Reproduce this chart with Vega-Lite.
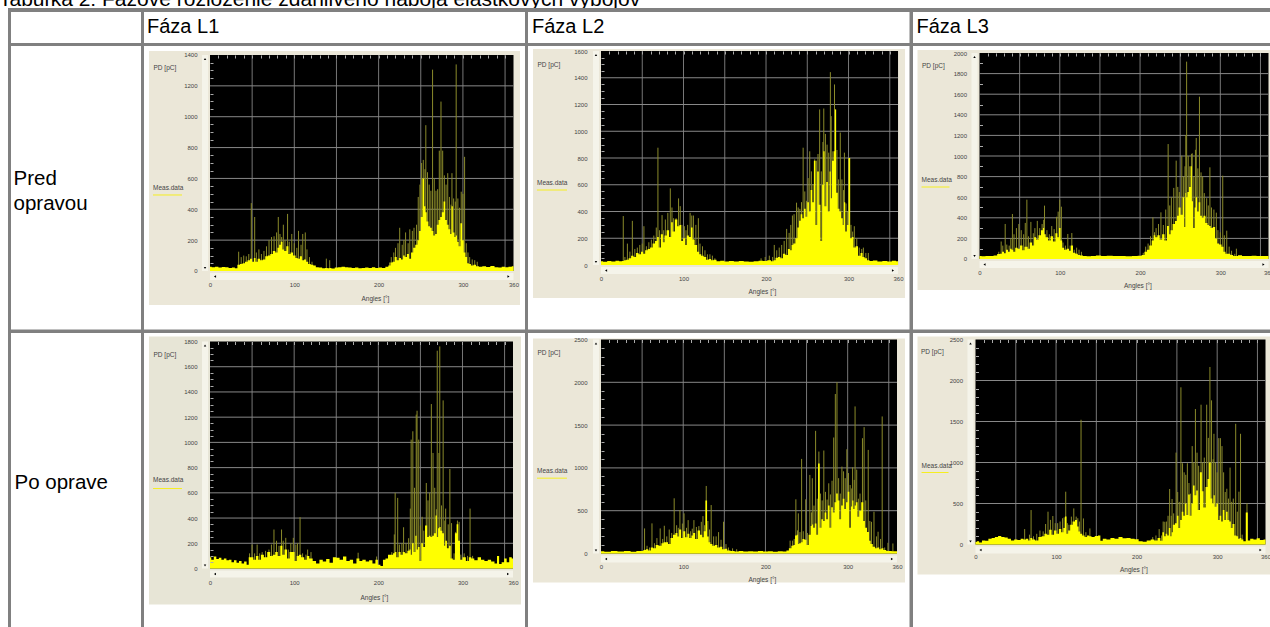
{"$schema":"https://vega.github.io/schema/vega-lite/v6.json","background":"#808080","padding":0,
"data":{"values":[{}]},
"config":{"font":"Liberation Sans","view":{"stroke":null},"axis":{"disable":true,"domain":false,"grid":false,"ticks":false,"format":"d","labelFontSize":6,"labelColor":"#444","labelOverlap":false,"labelFlush":false,"titleFontSize":6.5,"titleFontWeight":"normal","titleColor":"#444","titleAngle":0,"titleAlign":"left","titleBaseline":"middle","tickColor":"#aaa","tickSize":3}},
"datasets":{
"p1":[{"a":0,"b":28},{"a":4,"b":24},{"a":8,"b":28},{"a":12,"b":22},{"a":16,"b":26},{"a":20,"b":24},{"a":24,"b":20},{"a":28,"b":22},{"a":31,"b":18},{"a":34,"b":40,"s":125},{"a":37,"b":45,"s":90},{"a":40,"b":50,"s":100},{"a":43,"b":60,"s":95},{"a":46,"b":70,"s":110},{"a":49,"b":80,"s":440},{"a":51,"b":60},{"a":53,"b":85,"s":350},{"a":55,"b":60,"s":120},{"a":58,"b":80,"s":140},{"a":61,"b":70,"s":110},{"a":64,"b":75,"s":130},{"a":67,"b":95,"s":160},{"a":70,"b":100,"s":200},{"a":73,"b":110,"s":220},{"a":76,"b":130,"s":225},{"a":79,"b":120,"s":250},{"a":81,"b":150,"s":350},{"a":83,"b":170,"s":240},{"a":85,"b":190,"s":220},{"a":87,"b":140,"s":300},{"a":89,"b":130,"s":200},{"a":92,"b":160,"s":370},{"a":94,"b":110,"s":190},{"a":97,"b":120,"s":240},{"a":100,"b":100,"s":180},{"a":103,"b":85,"s":150},{"a":105,"b":80,"s":260},{"a":108,"b":95,"s":170},{"a":110,"b":70,"s":240},{"a":113,"b":75,"s":250},{"a":115,"b":60,"s":140},{"a":118,"b":45,"s":90},{"a":121,"b":40,"s":60},{"a":124,"b":35},{"a":127,"b":25},{"a":131,"b":22},{"a":135,"b":18},{"a":138,"b":20,"s":80},{"a":141,"b":18},{"a":142,"b":20,"s":70},{"a":146,"b":16},{"a":150,"b":22},{"a":154,"b":24},{"a":158,"b":28},{"a":162,"b":24},{"a":166,"b":22},{"a":170,"b":20},{"a":174,"b":22},{"a":178,"b":18},{"a":182,"b":20},{"a":186,"b":22},{"a":190,"b":20},{"a":194,"b":24},{"a":198,"b":20},{"a":202,"b":22},{"a":206,"b":20},{"a":210,"b":28},{"a":213,"b":35,"s":55},{"a":215,"b":55,"s":90},{"a":218,"b":60,"s":120},{"a":220,"b":90,"s":150},{"a":223,"b":70,"s":180},{"a":225,"b":85,"s":280},{"a":228,"b":75,"s":170},{"a":230,"b":100,"s":200},{"a":232,"b":90,"s":250},{"a":235,"b":110,"s":180},{"a":237,"b":80,"s":270},{"a":240,"b":120,"s":260},{"a":242,"b":150,"s":280},{"a":245,"b":170,"s":300},{"a":247,"b":200,"s":480},{"a":249,"b":260,"s":560},{"a":251,"b":350,"s":700},{"a":253,"b":600,"s":720},{"a":255,"b":420,"s":660},{"a":256,"b":380,"s":945},{"a":258,"b":320,"s":640},{"a":260,"b":290,"s":560},{"a":262,"b":280,"s":520},{"a":264,"b":260,"s":1305},{"a":266,"b":230,"s":600},{"a":268,"b":240,"s":520},{"a":270,"b":300,"s":530},{"a":272,"b":330,"s":780},{"a":274,"b":350,"s":1098},{"a":276,"b":380,"s":780},{"a":278,"b":450,"s":620},{"a":280,"b":330,"s":560},{"a":282,"b":300,"s":634},{"a":284,"b":270,"s":480},{"a":286,"b":240,"s":430},{"a":287,"b":420,"s":634},{"a":289,"b":250,"s":470},{"a":291,"b":220,"s":450},{"a":292,"b":230,"s":1339},{"a":294,"b":190,"s":470},{"a":296,"b":160,"s":410},{"a":298,"b":310,"s":514},{"a":300,"b":200,"s":500},{"a":302,"b":120,"s":740},{"a":304,"b":90,"s":180},{"a":306,"b":50,"s":120},{"a":308,"b":45,"s":90},{"a":311,"b":35,"s":75},{"a":314,"b":40,"s":70},{"a":317,"b":30,"s":60},{"a":321,"b":28},{"a":325,"b":30},{"a":330,"b":26},{"a":335,"b":32},{"a":340,"b":24},{"a":344,"b":22},{"a":348,"b":28},{"a":352,"b":24},{"a":356,"b":28},{"a":360,"b":30}],
"p2":[{"a":0,"b":28},{"a":5,"b":24},{"a":10,"b":30},{"a":15,"b":26},{"a":20,"b":32},{"a":24,"b":28},{"a":27,"b":30,"s":366},{"a":29,"b":36,"s":60},{"a":32,"b":40,"s":160},{"a":35,"b":50,"s":100},{"a":38,"b":70,"s":330},{"a":41,"b":60,"s":120},{"a":44,"b":90,"s":130},{"a":47,"b":80,"s":150},{"a":50,"b":100,"s":160},{"a":52,"b":85,"s":290},{"a":55,"b":110,"s":140},{"a":58,"b":120,"s":170},{"a":61,"b":130,"s":190},{"a":64,"b":160,"s":220},{"a":67,"b":180,"s":280},{"a":69,"b":210,"s":877},{"a":71,"b":130,"s":260},{"a":74,"b":230,"s":373},{"a":76,"b":170,"s":260},{"a":78,"b":220,"s":340},{"a":81,"b":260,"s":390},{"a":84,"b":210,"s":573},{"a":86,"b":320,"s":430},{"a":88,"b":250,"s":350},{"a":91,"b":340,"s":350},{"a":94,"b":290,"s":498},{"a":96,"b":300,"s":440},{"a":98,"b":180,"s":300},{"a":101,"b":200,"s":290},{"a":103,"b":150,"s":260},{"a":105,"b":220,"s":300},{"a":108,"b":210,"s":390},{"a":110,"b":280,"s":370},{"a":112,"b":190,"s":370},{"a":115,"b":150,"s":300},{"a":118,"b":100,"s":350},{"a":120,"b":80,"s":160},{"a":123,"b":70,"s":140},{"a":126,"b":60,"s":110},{"a":129,"b":40,"s":80},{"a":132,"b":45,"s":80},{"a":135,"b":35,"s":70},{"a":138,"b":40,"s":50},{"a":142,"b":28},{"a":147,"b":32},{"a":152,"b":26},{"a":158,"b":30},{"a":164,"b":26},{"a":170,"b":30},{"a":176,"b":26},{"a":182,"b":24},{"a":188,"b":28},{"a":194,"b":32,"s":50},{"a":199,"b":30,"s":60},{"a":204,"b":36,"s":70},{"a":208,"b":28,"s":60},{"a":210,"b":35,"s":150},{"a":213,"b":55,"s":110},{"a":216,"b":60,"s":130},{"a":219,"b":50,"s":150},{"a":222,"b":85,"s":180},{"a":225,"b":75,"s":270},{"a":228,"b":120,"s":240},{"a":230,"b":110,"s":300},{"a":232,"b":150,"s":370},{"a":234,"b":160,"s":380},{"a":237,"b":200,"s":466},{"a":239,"b":280,"s":430},{"a":241,"b":330,"s":420},{"a":243,"b":380,"s":470},{"a":245,"b":350,"s":877},{"a":247,"b":420,"s":550},{"a":249,"b":360,"s":480},{"a":251,"b":470,"s":650},{"a":253,"b":400,"s":850},{"a":255,"b":560,"s":700},{"a":257,"b":470,"s":600},{"a":259,"b":780,"s":790},{"a":261,"b":300,"s":780},{"a":263,"b":700,"s":830},{"a":265,"b":450,"s":1163},{"a":267,"b":180,"s":700},{"a":269,"b":600,"s":920},{"a":270,"b":850,"s":1170},{"a":272,"b":440,"s":980},{"a":274,"b":620,"s":900},{"a":276,"b":400,"s":840},{"a":278,"b":700,"s":1442},{"a":279,"b":500,"s":1113},{"a":281,"b":780,"s":850},{"a":283,"b":850,"s":1350},{"a":284,"b":1163,"s":1163},{"a":286,"b":540,"s":860},{"a":288,"b":420,"s":640},{"a":290,"b":400,"s":990},{"a":292,"b":350,"s":640},{"a":294,"b":300,"s":560},{"a":295,"b":470,"s":840},{"a":297,"b":250,"s":460},{"a":299,"b":300,"s":400},{"a":301,"b":800,"s":800},{"a":303,"b":200,"s":300},{"a":305,"b":210,"s":250},{"a":307,"b":130,"s":290},{"a":310,"b":140,"s":200},{"a":313,"b":70,"s":130},{"a":316,"b":90,"s":120},{"a":318,"b":60,"s":130},{"a":321,"b":50,"s":90},{"a":324,"b":35,"s":90},{"a":327,"b":30},{"a":332,"b":34},{"a":338,"b":26},{"a":344,"b":30},{"a":350,"b":26},{"a":355,"b":32},{"a":360,"b":28}],
"p3":[{"a":0,"b":30},{"a":5,"b":26},{"a":10,"b":30},{"a":15,"b":28},{"a":20,"b":34},{"a":24,"b":48,"s":70},{"a":27,"b":50,"s":170},{"a":29,"b":70,"s":130},{"a":32,"b":55,"s":340},{"a":34,"b":90,"s":140},{"a":37,"b":70,"s":130},{"a":39,"b":100,"s":200},{"a":41,"b":90,"s":437},{"a":43,"b":70,"s":240},{"a":46,"b":110,"s":300},{"a":49,"b":100,"s":340},{"a":52,"b":130,"s":280},{"a":55,"b":85,"s":240},{"a":57,"b":120,"s":350},{"a":59,"b":120,"s":576},{"a":61,"b":100,"s":220},{"a":64,"b":160,"s":360},{"a":67,"b":130,"s":250},{"a":69,"b":210,"s":300},{"a":72,"b":190,"s":370},{"a":75,"b":230,"s":300},{"a":78,"b":280,"s":340},{"a":80,"b":300,"s":380},{"a":81,"b":240,"s":518},{"a":84,"b":210,"s":280},{"a":87,"b":180,"s":240},{"a":90,"b":220,"s":320},{"a":93,"b":170,"s":290},{"a":96,"b":250,"s":410},{"a":98,"b":210,"s":460},{"a":100,"b":300,"s":576},{"a":102,"b":180,"s":508},{"a":104,"b":110,"s":160},{"a":107,"b":90,"s":130},{"a":110,"b":100,"s":243},{"a":113,"b":80,"s":130},{"a":115,"b":130,"s":252},{"a":118,"b":60,"s":90},{"a":121,"b":50,"s":110},{"a":124,"b":40,"s":90},{"a":127,"b":35,"s":70},{"a":131,"b":30},{"a":136,"b":26},{"a":142,"b":28},{"a":148,"b":34},{"a":155,"b":30},{"a":162,"b":32},{"a":170,"b":28},{"a":178,"b":30},{"a":186,"b":26},{"a":194,"b":30},{"a":200,"b":32},{"a":204,"b":40,"s":60},{"a":207,"b":70,"s":120},{"a":210,"b":90,"s":150},{"a":213,"b":130,"s":220},{"a":216,"b":180,"s":404},{"a":218,"b":230,"s":260},{"a":220,"b":210,"s":300},{"a":223,"b":230,"s":340},{"a":226,"b":190,"s":453},{"a":229,"b":240,"s":330},{"a":232,"b":180,"s":480},{"a":235,"b":320,"s":1116},{"a":237,"b":240,"s":520},{"a":239,"b":280,"s":600},{"a":242,"b":340,"s":690},{"a":245,"b":370,"s":955},{"a":247,"b":420,"s":700},{"a":249,"b":500,"s":650},{"a":252,"b":430,"s":1003},{"a":254,"b":600,"s":800},{"a":256,"b":310,"s":900},{"a":257,"b":640,"s":1204},{"a":258,"b":600,"s":1916},{"a":260,"b":650,"s":1000},{"a":262,"b":700,"s":900},{"a":264,"b":900,"s":1020},{"a":265,"b":560,"s":1026},{"a":267,"b":300,"s":800},{"a":269,"b":500,"s":1060},{"a":270,"b":600,"s":1175},{"a":272,"b":460,"s":880},{"a":274,"b":550,"s":1576},{"a":276,"b":420,"s":841},{"a":278,"b":400,"s":800},{"a":280,"b":420,"s":640},{"a":283,"b":350,"s":590},{"a":285,"b":330,"s":520},{"a":287,"b":320,"s":890},{"a":289,"b":300,"s":500},{"a":292,"b":310,"s":480},{"a":295,"b":200,"s":450},{"a":297,"b":150,"s":280},{"a":300,"b":140,"s":260},{"a":303,"b":120,"s":809},{"a":305,"b":70,"s":230},{"a":308,"b":50,"s":275},{"a":311,"b":50,"s":120},{"a":314,"b":40,"s":80},{"a":318,"b":30,"s":50},{"a":320,"b":30,"s":100},{"a":324,"b":36},{"a":330,"b":30},{"a":336,"b":28},{"a":342,"b":32},{"a":348,"b":28},{"a":354,"b":30},{"a":360,"b":28}],
"p4":[{"a":0,"b":90},{"a":3,"b":70},{"a":6,"b":95},{"a":9,"b":75},{"a":12,"b":85},{"a":15,"b":70},{"a":18,"b":80},{"a":21,"b":65},{"a":24,"b":70},{"a":27,"b":50},{"a":30,"b":65},{"a":33,"b":45},{"a":36,"b":60},{"a":39,"b":40},{"a":42,"b":55},{"a":45,"b":30},{"a":47,"b":90,"s":120},{"a":50,"b":90,"s":190},{"a":53,"b":70,"s":120},{"a":56,"b":100,"s":190},{"a":59,"b":70,"s":120},{"a":62,"b":110,"s":130},{"a":66,"b":90,"s":140},{"a":70,"b":130,"s":150},{"a":73,"b":100,"s":190},{"a":76,"b":110,"s":309},{"a":79,"b":130,"s":220},{"a":82,"b":100,"s":180},{"a":85,"b":180,"s":309},{"a":87,"b":110,"s":220},{"a":90,"b":150,"s":243},{"a":93,"b":80,"s":150},{"a":96,"b":130,"s":200},{"a":99,"b":130,"s":243},{"a":102,"b":60,"s":190},{"a":104,"b":100,"s":200},{"a":107,"b":110,"s":407},{"a":110,"b":90,"s":120},{"a":114,"b":70,"s":110},{"a":116,"b":100,"s":150},{"a":120,"b":80,"s":130},{"a":124,"b":60},{"a":128,"b":40},{"a":132,"b":70},{"a":136,"b":55},{"a":140,"b":75},{"a":144,"b":45},{"a":148,"b":90},{"a":152,"b":85},{"a":156,"b":70},{"a":160,"b":95},{"a":164,"b":60},{"a":168,"b":70},{"a":172,"b":40},{"a":176,"b":80,"s":125},{"a":179,"b":60},{"a":183,"b":70},{"a":187,"b":55},{"a":191,"b":65},{"a":195,"b":40},{"a":198,"b":70,"s":95},{"a":201,"b":30},{"a":204,"b":20},{"a":207,"b":70},{"a":210,"b":80},{"a":213,"b":110},{"a":216,"b":110,"s":130},{"a":219,"b":120,"s":270},{"a":220,"b":130,"s":600},{"a":223,"b":90,"s":560},{"a":225,"b":130,"s":190},{"a":228,"b":110,"s":200},{"a":230,"b":130,"s":327},{"a":233,"b":120,"s":200},{"a":236,"b":140,"s":240},{"a":238,"b":150,"s":475},{"a":239,"b":110,"s":1022},{"a":241,"b":200,"s":1088},{"a":243,"b":130,"s":640},{"a":245,"b":260,"s":1220},{"a":246,"b":150,"s":1251},{"a":248,"b":170,"s":1022},{"a":250,"b":60,"s":340},{"a":252,"b":200,"s":410},{"a":254,"b":170,"s":300},{"a":257,"b":340,"s":678},{"a":259,"b":250,"s":540},{"a":261,"b":260,"s":600},{"a":263,"b":250,"s":1304},{"a":265,"b":260,"s":916},{"a":267,"b":280,"s":640},{"a":269,"b":420,"s":470},{"a":270,"b":250,"s":1727},{"a":272,"b":320,"s":916},{"a":273,"b":330,"s":1761},{"a":275,"b":300,"s":500},{"a":277,"b":280,"s":1333},{"a":279,"b":180,"s":380},{"a":280,"b":220,"s":475},{"a":283,"b":160,"s":350},{"a":285,"b":180,"s":789},{"a":287,"b":80,"s":360},{"a":290,"b":70,"s":120},{"a":292,"b":280,"s":290},{"a":294,"b":350,"s":380},{"a":296,"b":220,"s":370},{"a":298,"b":70,"s":110},{"a":302,"b":90,"s":120},{"a":306,"b":60,"s":100},{"a":309,"b":90,"s":475},{"a":312,"b":80,"s":100},{"a":316,"b":65},{"a":320,"b":90},{"a":324,"b":70},{"a":328,"b":60},{"a":332,"b":70},{"a":336,"b":55},{"a":340,"b":40},{"a":342,"b":100},{"a":345,"b":35},{"a":348,"b":50},{"a":351,"b":80},{"a":354,"b":50},{"a":357,"b":90},{"a":360,"b":80}],
"p5":[{"a":0,"b":25},{"a":8,"b":20},{"a":16,"b":30},{"a":24,"b":22},{"a":32,"b":28},{"a":40,"b":20},{"a":46,"b":28},{"a":50,"b":30},{"a":53,"b":40,"s":293},{"a":56,"b":50,"s":90},{"a":59,"b":35,"s":70},{"a":62,"b":70,"s":352},{"a":65,"b":60,"s":120},{"a":68,"b":100,"s":180},{"a":72,"b":90,"s":293},{"a":75,"b":120,"s":170},{"a":77,"b":130,"s":324},{"a":80,"b":130,"s":200},{"a":83,"b":110,"s":280},{"a":86,"b":180,"s":240},{"a":89,"b":220,"s":645},{"a":92,"b":240,"s":330},{"a":94,"b":200,"s":300},{"a":96,"b":280,"s":508},{"a":99,"b":180,"s":350},{"a":101,"b":260,"s":469},{"a":104,"b":190,"s":300},{"a":106,"b":230,"s":390},{"a":109,"b":180,"s":260},{"a":111,"b":210,"s":290},{"a":113,"b":240,"s":390},{"a":116,"b":170,"s":310},{"a":119,"b":270,"s":320},{"a":122,"b":220,"s":370},{"a":124,"b":190,"s":437},{"a":126,"b":260,"s":330},{"a":128,"b":620,"s":789},{"a":130,"b":200,"s":380},{"a":132,"b":130,"s":280},{"a":134,"b":110,"s":566},{"a":137,"b":90,"s":200},{"a":140,"b":100,"s":200},{"a":143,"b":70,"s":250},{"a":146,"b":80,"s":160},{"a":149,"b":50,"s":371},{"a":152,"b":55,"s":110},{"a":155,"b":35,"s":70},{"a":160,"b":30,"s":60},{"a":165,"b":24,"s":50},{"a":170,"b":28},{"a":176,"b":22},{"a":182,"b":26},{"a":188,"b":22},{"a":194,"b":28},{"a":200,"b":22},{"a":206,"b":26},{"a":212,"b":20},{"a":218,"b":26},{"a":224,"b":22},{"a":227,"b":35},{"a":230,"b":60,"s":150},{"a":233,"b":90,"s":150},{"a":235,"b":100,"s":170},{"a":237,"b":210,"s":633},{"a":239,"b":220,"s":270},{"a":240,"b":110,"s":469},{"a":242,"b":120,"s":250},{"a":244,"b":130,"s":1105},{"a":246,"b":170,"s":260},{"a":249,"b":160,"s":633},{"a":251,"b":100,"s":240},{"a":254,"b":220,"s":918},{"a":256,"b":320,"s":480},{"a":257,"b":340,"s":879},{"a":259,"b":300,"s":560},{"a":261,"b":350,"s":1433},{"a":263,"b":220,"s":640},{"a":265,"b":1050,"s":1191},{"a":267,"b":300,"s":700},{"a":269,"b":400,"s":620},{"a":271,"b":380,"s":1203},{"a":273,"b":480,"s":720},{"a":275,"b":400,"s":630},{"a":277,"b":560,"s":820},{"a":279,"b":300,"s":690},{"a":281,"b":540,"s":850},{"a":283,"b":480,"s":1355},{"a":285,"b":600,"s":1863},{"a":287,"b":700,"s":2000},{"a":289,"b":620,"s":880},{"a":291,"b":400,"s":700},{"a":293,"b":560,"s":1015},{"a":295,"b":640,"s":960},{"a":297,"b":520,"s":880},{"a":299,"b":600,"s":1218},{"a":301,"b":720,"s":940},{"a":303,"b":300,"s":800},{"a":305,"b":550,"s":760},{"a":306,"b":620,"s":1007},{"a":308,"b":520,"s":860},{"a":309,"b":560,"s":1718},{"a":311,"b":600,"s":980},{"a":313,"b":430,"s":640},{"a":315,"b":500,"s":700},{"a":318,"b":600,"s":1347},{"a":320,"b":380,"s":1476},{"a":322,"b":300,"s":620},{"a":325,"b":250,"s":1210},{"a":327,"b":150,"s":380},{"a":329,"b":110,"s":370},{"a":332,"b":80,"s":488},{"a":335,"b":60,"s":200},{"a":337,"b":70,"s":254},{"a":340,"b":50,"s":170},{"a":342,"b":60,"s":1601},{"a":345,"b":40,"s":70},{"a":349,"b":30,"s":125},{"a":352,"b":28},{"a":355,"b":25,"s":117},{"a":360,"b":25}],
"p6":[{"a":0,"b":30},{"a":3,"b":40},{"a":6,"b":25},{"a":10,"b":50},{"a":14,"b":45},{"a":18,"b":70},{"a":22,"b":80},{"a":26,"b":90},{"a":30,"b":105},{"a":34,"b":90},{"a":38,"b":85},{"a":42,"b":70},{"a":46,"b":50},{"a":50,"b":60},{"a":54,"b":55},{"a":58,"b":70},{"a":61,"b":60,"s":188},{"a":64,"b":70},{"a":67,"b":50,"s":120},{"a":69,"b":80,"s":420},{"a":72,"b":60,"s":100},{"a":76,"b":50,"s":130},{"a":80,"b":90,"s":170},{"a":84,"b":100,"s":160},{"a":87,"b":130,"s":250},{"a":90,"b":120,"s":400},{"a":93,"b":180,"s":300},{"a":96,"b":120,"s":347},{"a":99,"b":170,"s":260},{"a":102,"b":130,"s":260},{"a":105,"b":190,"s":280},{"a":108,"b":150,"s":320},{"a":110,"b":200,"s":330},{"a":112,"b":340,"s":644},{"a":114,"b":130,"s":260},{"a":116,"b":170,"s":240},{"a":119,"b":240,"s":340},{"a":122,"b":280,"s":440},{"a":125,"b":300,"s":340},{"a":127,"b":220,"s":320},{"a":129,"b":160,"s":280},{"a":131,"b":130,"s":1521},{"a":134,"b":110,"s":318},{"a":137,"b":90,"s":150},{"a":140,"b":110},{"a":142,"b":100,"s":196},{"a":146,"b":90},{"a":150,"b":105},{"a":154,"b":110},{"a":156,"b":45},{"a":160,"b":70},{"a":165,"b":60},{"a":170,"b":80},{"a":175,"b":70},{"a":180,"b":90},{"a":185,"b":75},{"a":190,"b":80},{"a":195,"b":70},{"a":200,"b":65},{"a":205,"b":40},{"a":210,"b":35},{"a":215,"b":50},{"a":220,"b":60,"s":90},{"a":224,"b":50,"s":110},{"a":228,"b":80,"s":188},{"a":231,"b":45,"s":110},{"a":233,"b":150,"s":280},{"a":235,"b":100,"s":277},{"a":237,"b":130,"s":280},{"a":239,"b":110,"s":350},{"a":241,"b":200,"s":677},{"a":243,"b":100,"s":350},{"a":244,"b":150,"s":555},{"a":246,"b":240,"s":380},{"a":249,"b":260,"s":1121},{"a":251,"b":350,"s":640},{"a":253,"b":200,"s":520},{"a":255,"b":300,"s":1917},{"a":257,"b":400,"s":991},{"a":259,"b":350,"s":880},{"a":261,"b":500,"s":850},{"a":263,"b":360,"s":991},{"a":265,"b":610,"s":750},{"a":267,"b":350,"s":620},{"a":269,"b":500,"s":1200},{"a":271,"b":720,"s":1000},{"a":273,"b":600,"s":1652},{"a":275,"b":660,"s":1120},{"a":277,"b":420,"s":960},{"a":280,"b":880,"s":1705},{"a":282,"b":650,"s":1000},{"a":284,"b":450,"s":1060},{"a":287,"b":700,"s":1705},{"a":289,"b":800,"s":1300},{"a":291,"b":1000,"s":2165},{"a":293,"b":560,"s":1758},{"a":295,"b":500,"s":1040},{"a":296,"b":600,"s":1350},{"a":298,"b":460,"s":1000},{"a":300,"b":500,"s":880},{"a":302,"b":300,"s":1297},{"a":304,"b":350,"s":1297},{"a":306,"b":280,"s":1200},{"a":308,"b":420,"s":880},{"a":310,"b":300,"s":640},{"a":312,"b":400,"s":680},{"a":314,"b":300,"s":560},{"a":316,"b":280,"s":938},{"a":318,"b":200,"s":520},{"a":320,"b":250,"s":560},{"a":323,"b":110,"s":1472},{"a":325,"b":100,"s":400},{"a":327,"b":70,"s":644},{"a":329,"b":80,"s":1350},{"a":331,"b":60,"s":120},{"a":334,"b":40},{"a":337,"b":390,"s":502},{"a":339,"b":50},{"a":343,"b":70},{"a":347,"b":60},{"a":351,"b":75},{"a":355,"b":55},{"a":360,"b":60}]
},
"vconcat":[
{"width":1270,"height":8,"view":{"fill":"white"},"mark":{"type":"text","clip":true,"align":"left","baseline":"alphabetic","fontSize":21,"color":"#000","text":"Tabuľka 2: Fázové rozloženie zdanlivého náboja elastkových výbojov"},"encoding":{"x":{"datum":-1,"type":"quantitative","scale":{"domain":[0,1270],"nice":false}},"y":{"datum":2.5,"type":"quantitative","scale":{"domain":[0,8],"nice":false}}}},
{"hconcat":[
{"width":8,"height":619,"view":{"fill":"white"},"data":{"values":[]},"mark":"text"},
{"vconcat":[
{"width":1259,"height":0.1,"data":{"values":[]},"mark":"text"},
{"hconcat":[
{"width":130,"height":30.9,"view":{"fill":"white"},"data":{"values":[]},"mark":"text"},
{"width":381,"height":30.9,"view":{"fill":"white"},"mark":{"type":"text","text":"Fáza L1","align":"left","fontSize":20,"dx":3,"color":"#000"},"encoding":{"x":{"datum":0,"type":"quantitative","scale":{"domain":[0,1]}},"y":{"datum":0.5,"type":"quantitative","scale":{"domain":[0,1]}}}},
{"width":381.5,"height":30.9,"view":{"fill":"white"},"mark":{"type":"text","text":"Fáza L2","align":"left","fontSize":20,"dx":4,"color":"#000"},"encoding":{"x":{"datum":0,"type":"quantitative","scale":{"domain":[0,1]}},"y":{"datum":0.5,"type":"quantitative","scale":{"domain":[0,1]}}}},
{"width":357.5,"height":30.9,"view":{"fill":"white"},"mark":{"type":"text","text":"Fáza L3","align":"left","fontSize":20,"dx":3.5,"color":"#000"},"encoding":{"x":{"datum":0,"type":"quantitative","scale":{"domain":[0,1]}},"y":{"datum":0.5,"type":"quantitative","scale":{"domain":[0,1]}}}}
],"spacing":3,"bounds":"flush"},
{"hconcat":[
{"width":130,"height":283.5,"view":{"fill":"white"},"mark":{"type":"text","text":["Pred","opravou"],"align":"left","fontSize":20.5,"lineHeight":25,"dx":2.5,"dy":-9,"color":"#000"},"encoding":{"x":{"datum":0,"type":"quantitative","scale":{"domain":[0,1]}},"y":{"datum":0.5,"type":"quantitative","scale":{"domain":[0,1]}}}},
{"width":381,"height":283.5,"view":{"fill":"white"},"resolve":{"axis":{"x":"independent","y":"independent"}},"layer":[
{"mark":{"type":"rect","fill":"#ebe7d8"},"encoding":{"x":{"datum":-72.35,"type":"quantitative","scale":{"domain":[-78.29,373.64],"nice":false},"axis":{"disable":false,"zindex":1,"values":[0,100,200,300,360],"offset":-58.5,"labelPadding":10,"tickSize":0,"title":"Angles [°]","titleX":217,"titleY":27}},"x2":{"datum":367.7},"y":{"datum":-220.4,"type":"quantitative","scale":{"domain":[-379.2,1458.3],"nice":false},"axis":{"disable":false,"zindex":1,"orient":"left","values":[0,200,400,600,800,1000,1200,1400],"offset":-66,"labelPadding":13,"tickSize":0,"title":"PD [pC]","titleX":-57,"titleY":21.5}},"y2":{"datum":1425.9}}},
{"mark":{"type":"rect","fill":"#000"},"encoding":{"x":{"datum":0,"type":"quantitative","axis":{"disable":false,"zindex":1,"orient":"top","values":[10,20,30,40,50,60,70,80,90,100,110,120,130,140,150,160,170,180,190,200,210,220,230,240,250,260,270,280,290,300,310,320,330,340,350],"labels":false,"ticks":true,"offset":-12,"title":null}},"x2":{"datum":360},"y":{"datum":0,"type":"quantitative","axis":{"disable":false,"zindex":1,"orient":"left","values":[50,100,150,250,300,350,450,500,550,650,700,750,850,900,950,1050,1100,1150,1250,1300,1350],"labels":false,"ticks":true,"offset":-69,"title":null}},"y2":{"datum":1400}}},
{"mark":{"type":"rect","fill":"#f5f4ea"},"encoding":{"x":{"datum":-9.5},"x2":{"datum":-2.4},"y":{"datum":0},"y2":{"datum":1400}}},
{"mark":{"type":"rect","fill":"#f5f4ea"},"encoding":{"x":{"datum":0},"x2":{"datum":360},"y":{"datum":-13},"y2":{"datum":-58}}},
{"mark":{"type":"point","shape":"triangle-up","filled":true,"size":6,"color":"#000","opacity":1},"encoding":{"x":{"datum":-5.9},"y":{"datum":1374}}},
{"mark":{"type":"point","shape":"triangle-down","filled":true,"size":6,"color":"#000","opacity":1},"encoding":{"x":{"datum":-5.9},"y":{"datum":19}}},
{"mark":{"type":"point","shape":"triangle-left","filled":true,"size":6,"color":"#000","opacity":1},"encoding":{"x":{"datum":5.9},"y":{"datum":-36}}},
{"mark":{"type":"point","shape":"triangle-right","filled":true,"size":6,"color":"#000","opacity":1},"encoding":{"x":{"datum":354.1},"y":{"datum":-36}}},
{"data":{"values":[50,100,150,200,250,300,350]},"mark":{"type":"rule","stroke":"#777","strokeWidth":1},"encoding":{"x":{"field":"data","type":"quantitative"},"y":{"datum":0},"y2":{"datum":1400}}},
{"data":{"values":[200,400,600,800,1000,1200]},"mark":{"type":"rule","stroke":"#888","strokeWidth":1},"encoding":{"y":{"field":"data","type":"quantitative"},"x":{"datum":0},"x2":{"datum":360}}},
{"data":{"name":"p1"},"mark":{"type":"rule","stroke":"#8a8a2a","strokeWidth":1},"encoding":{"x":{"field":"a","type":"quantitative"},"y":{"field":"s","type":"quantitative"},"y2":{"datum":0}}},
{"data":{"name":"p1"},"mark":{"type":"area","interpolate":"step","fill":"#ffff00"},"encoding":{"x":{"field":"a","type":"quantitative"},"y":{"field":"b","type":"quantitative"},"y2":{"datum":0}}},
{"mark":{"type":"text","text":"Meas.data","align":"left","fontSize":6.5,"color":"#444"},"encoding":{"x":{"datum":-67.6},"y":{"datum":538}}},
{"mark":{"type":"rule","stroke":"#f5ee20","strokeWidth":1},"encoding":{"x":{"datum":-67.6},"x2":{"datum":-33.2},"y":{"datum":492.6}}}
]},
{"width":381.5,"height":283.5,"view":{"fill":"white"},"resolve":{"axis":{"x":"independent","y":"independent"}},"layer":[
{"mark":{"type":"rect","fill":"#ebe7d8"},"encoding":{"x":{"datum":-82.42,"type":"quantitative","scale":{"domain":[-88.48,373.9],"nice":false},"axis":{"disable":false,"zindex":1,"values":[0,100,200,300,360],"offset":-64.5,"labelPadding":10,"tickSize":0,"title":"Angles [°]","titleX":220,"titleY":26}},"x2":{"datum":368.5},"y":{"datum":-246.7,"type":"quantitative","scale":{"domain":[-482.2,1637.4],"nice":false},"axis":{"disable":false,"zindex":1,"orient":"left","values":[0,200,400,600,800,1000,1200,1400,1600],"offset":-73,"labelPadding":14,"tickSize":0,"title":"PD [pC]","titleX":-64,"titleY":18}},"y2":{"datum":1615}}},
{"mark":{"type":"rect","fill":"#000"},"encoding":{"x":{"datum":0,"type":"quantitative","axis":{"disable":false,"zindex":1,"orient":"top","values":[10,20,30,40,50,60,70,80,90,100,110,120,130,140,150,160,170,180,190,200,210,220,230,240,250,260,270,280,290,300,310,320,330,340,350],"labels":false,"ticks":true,"offset":-8,"title":null}},"x2":{"datum":360},"y":{"datum":0,"type":"quantitative","axis":{"disable":false,"zindex":1,"orient":"left","values":[50,100,150,250,300,350,450,500,550,650,700,750,850,900,950,1050,1100,1150,1250,1300,1350,1450,1500,1550],"labels":false,"ticks":true,"offset":-76,"title":null}},"y2":{"datum":1600}}},
{"mark":{"type":"rect","fill":"#f5f4ea"},"encoding":{"x":{"datum":-9.7},"x2":{"datum":-2.4},"y":{"datum":0},"y2":{"datum":1600}}},
{"mark":{"type":"rect","fill":"#f5f4ea"},"encoding":{"x":{"datum":0},"x2":{"datum":360},"y":{"datum":-15},"y2":{"datum":-67.3}}},
{"mark":{"type":"point","shape":"triangle-up","filled":true,"size":6,"color":"#000","opacity":1},"encoding":{"x":{"datum":-6.1},"y":{"datum":1570}}},
{"mark":{"type":"point","shape":"triangle-down","filled":true,"size":6,"color":"#000","opacity":1},"encoding":{"x":{"datum":-6.1},"y":{"datum":22}}},
{"mark":{"type":"point","shape":"triangle-left","filled":true,"size":6,"color":"#000","opacity":1},"encoding":{"x":{"datum":6.1},"y":{"datum":-41}}},
{"mark":{"type":"point","shape":"triangle-right","filled":true,"size":6,"color":"#000","opacity":1},"encoding":{"x":{"datum":353.9},"y":{"datum":-41}}},
{"data":{"values":[50,100,150,200,250,300,350]},"mark":{"type":"rule","stroke":"#777","strokeWidth":1},"encoding":{"x":{"field":"data","type":"quantitative"},"y":{"datum":0},"y2":{"datum":1600}}},
{"data":{"values":[200,400,600,800,1000,1200,1400]},"mark":{"type":"rule","stroke":"#888","strokeWidth":1},"encoding":{"y":{"field":"data","type":"quantitative"},"x":{"datum":0},"x2":{"datum":360}}},
{"data":{"name":"p2"},"mark":{"type":"rule","stroke":"#8a8a2a","strokeWidth":1},"encoding":{"x":{"field":"a","type":"quantitative"},"y":{"field":"s","type":"quantitative"},"y2":{"datum":0}}},
{"data":{"name":"p2"},"mark":{"type":"area","interpolate":"step","fill":"#ffff00"},"encoding":{"x":{"field":"a","type":"quantitative"},"y":{"field":"b","type":"quantitative"},"y2":{"datum":0}}},
{"mark":{"type":"text","text":"Meas.data","align":"left","fontSize":6.5,"color":"#444"},"encoding":{"x":{"datum":-77.6},"y":{"datum":613}}},
{"mark":{"type":"rule","stroke":"#f5ee20","strokeWidth":1},"encoding":{"x":{"datum":-77.6},"x2":{"datum":-41.2},"y":{"datum":560.7}}}
]},
{"width":357.5,"height":283.5,"view":{"fill":"white"},"resolve":{"axis":{"x":"independent","y":"independent"}},"layer":[
{"mark":{"type":"rect","fill":"#ebe7d8"},"encoding":{"x":{"datum":-77.23,"type":"quantitative","scale":{"domain":[-82.84,362.5],"nice":false},"axis":{"disable":false,"zindex":1,"values":[0,100,200,300,360],"offset":-70.5,"labelPadding":10,"tickSize":0,"title":"Angles [°]","titleX":210.5,"titleY":26}},"x2":{"datum":362.5},"y":{"datum":-301,"type":"quantitative","scale":{"domain":[-684.5,2068],"nice":false},"axis":{"disable":false,"zindex":1,"orient":"left","values":[0,200,400,600,800,1000,1200,1400,1600,1800,2000],"offset":-66.5,"labelPadding":13,"tickSize":0,"title":"PD [pC]","titleX":-58,"titleY":19}},"y2":{"datum":2029}}},
{"mark":{"type":"rect","fill":"#000"},"encoding":{"x":{"datum":0,"type":"quantitative","axis":{"disable":false,"zindex":1,"orient":"top","values":[10,20,30,40,50,60,70,80,90,100,110,120,130,140,150,160,170,180,190,200,210,220,230,240,250,260,270,280,290,300,310,320,330,340,350],"labels":false,"ticks":true,"offset":-10,"title":null}},"x2":{"datum":360},"y":{"datum":0,"type":"quantitative","axis":{"disable":false,"zindex":1,"orient":"left","values":[100,300,500,700,900,1100,1300,1500,1700,1900],"labels":false,"ticks":true,"offset":-69.5,"title":null}},"y2":{"datum":2000}}},
{"mark":{"type":"rect","fill":"#f5f4ea"},"encoding":{"x":{"datum":-10},"x2":{"datum":-2.5},"y":{"datum":0},"y2":{"datum":2000}}},
{"mark":{"type":"rect","fill":"#f5f4ea"},"encoding":{"x":{"datum":0},"x2":{"datum":360},"y":{"datum":-19.4},"y2":{"datum":-87.4}}},
{"mark":{"type":"point","shape":"triangle-up","filled":true,"size":6,"color":"#000","opacity":1},"encoding":{"x":{"datum":-6.2},"y":{"datum":1961}}},
{"mark":{"type":"point","shape":"triangle-down","filled":true,"size":6,"color":"#000","opacity":1},"encoding":{"x":{"datum":-6.2},"y":{"datum":29}}},
{"mark":{"type":"point","shape":"triangle-left","filled":true,"size":6,"color":"#000","opacity":1},"encoding":{"x":{"datum":6.2},"y":{"datum":-53}}},
{"mark":{"type":"point","shape":"triangle-right","filled":true,"size":6,"color":"#000","opacity":1},"encoding":{"x":{"datum":353.8},"y":{"datum":-53}}},
{"data":{"values":[50,100,150,200,250,300,350]},"mark":{"type":"rule","stroke":"#777","strokeWidth":1},"encoding":{"x":{"field":"data","type":"quantitative"},"y":{"datum":0},"y2":{"datum":2000}}},
{"data":{"values":[200,400,600,800,1000,1200,1400,1600,1800]},"mark":{"type":"rule","stroke":"#888","strokeWidth":1},"encoding":{"y":{"field":"data","type":"quantitative"},"x":{"datum":0},"x2":{"datum":360}}},
{"data":{"name":"p3"},"mark":{"type":"rule","stroke":"#8a8a2a","strokeWidth":1},"encoding":{"x":{"field":"a","type":"quantitative"},"y":{"field":"s","type":"quantitative"},"y2":{"datum":0}}},
{"data":{"name":"p3"},"mark":{"type":"area","interpolate":"step","fill":"#ffff00"},"encoding":{"x":{"field":"a","type":"quantitative"},"y":{"field":"b","type":"quantitative"},"y2":{"datum":0}}},
{"mark":{"type":"text","text":"Meas.data","align":"left","fontSize":6.5,"color":"#444"},"encoding":{"x":{"datum":-72.2},"y":{"datum":767}}},
{"mark":{"type":"rule","stroke":"#f5ee20","strokeWidth":1},"encoding":{"x":{"datum":-72.2},"x2":{"datum":-37.4},"y":{"datum":699}}}
]}
],"spacing":3,"bounds":"flush"},
{"hconcat":[
{"width":130,"height":295.5,"view":{"fill":"white"},"mark":{"type":"text","text":"Po oprave","align":"left","fontSize":20.5,"dx":3.5,"dy":2,"color":"#000"},"encoding":{"x":{"datum":0,"type":"quantitative","scale":{"domain":[0,1]}},"y":{"datum":0.5,"type":"quantitative","scale":{"domain":[0,1]}}}},
{"width":381,"height":295.5,"view":{"fill":"white"},"resolve":{"axis":{"x":"independent","y":"independent"}},"layer":[
{"mark":{"type":"rect","fill":"#e7e5d6"},"encoding":{"x":{"datum":-72.48,"type":"quantitative","scale":{"domain":[-78.42,374.26],"nice":false},"axis":{"disable":false,"zindex":1,"values":[0,100,200,300,360],"offset":-60,"labelPadding":11,"tickSize":0,"title":"Angles [°]","titleX":216,"titleY":29}},"x2":{"datum":369.5},"y":{"datum":-285.5,"type":"quantitative","scale":{"domain":[-475.8,1867.4],"nice":false},"axis":{"disable":false,"zindex":1,"orient":"left","values":[0,200,400,600,800,1000,1200,1400,1600,1800],"offset":-66,"labelPadding":13,"tickSize":0,"title":"PD [pC]","titleX":-57,"titleY":21}},"y2":{"datum":1839.7}}},
{"mark":{"type":"rect","fill":"#000"},"encoding":{"x":{"datum":0,"type":"quantitative","axis":{"disable":false,"zindex":1,"orient":"top","values":[10,20,30,40,50,60,70,80,90,100,110,120,130,140,150,160,170,180,190,200,210,220,230,240,250,260,270,280,290,300,310,320,330,340,350],"labels":false,"ticks":true,"offset":-11.5,"title":null}},"x2":{"datum":360},"y":{"datum":0,"type":"quantitative","axis":{"disable":false,"zindex":1,"orient":"left","values":[50,100,150,250,300,350,450,500,550,650,700,750,850,900,950,1050,1100,1150,1250,1300,1350,1450,1500,1550,1650,1700,1750],"labels":false,"ticks":true,"offset":-69,"title":null}},"y2":{"datum":1800}}},
{"mark":{"type":"rect","fill":"#f5f4ea"},"encoding":{"x":{"datum":-9.5},"x2":{"datum":-2.4},"y":{"datum":0},"y2":{"datum":1800}}},
{"mark":{"type":"rect","fill":"#f5f4ea"},"encoding":{"x":{"datum":0},"x2":{"datum":360},"y":{"datum":-15.9},"y2":{"datum":-71.4}}},
{"mark":{"type":"point","shape":"triangle-up","filled":true,"size":6,"color":"#000","opacity":1},"encoding":{"x":{"datum":-5.9},"y":{"datum":1768}}},
{"mark":{"type":"point","shape":"triangle-down","filled":true,"size":6,"color":"#000","opacity":1},"encoding":{"x":{"datum":-5.9},"y":{"datum":24}}},
{"mark":{"type":"point","shape":"triangle-left","filled":true,"size":6,"color":"#000","opacity":1},"encoding":{"x":{"datum":5.9},"y":{"datum":-44}}},
{"mark":{"type":"point","shape":"triangle-right","filled":true,"size":6,"color":"#000","opacity":1},"encoding":{"x":{"datum":354.1},"y":{"datum":-44}}},
{"data":{"values":[50,100,150,200,250,300,350]},"mark":{"type":"rule","stroke":"#777","strokeWidth":1},"encoding":{"x":{"field":"data","type":"quantitative"},"y":{"datum":0},"y2":{"datum":1800}}},
{"data":{"values":[200,400,600,800,1000,1200,1400,1600]},"mark":{"type":"rule","stroke":"#888","strokeWidth":1},"encoding":{"y":{"field":"data","type":"quantitative"},"x":{"datum":0},"x2":{"datum":360}}},
{"data":{"name":"p4"},"mark":{"type":"rule","stroke":"#8a8a2a","strokeWidth":1},"encoding":{"x":{"field":"a","type":"quantitative"},"y":{"field":"s","type":"quantitative"},"y2":{"datum":0}}},
{"data":{"name":"p4"},"mark":{"type":"area","interpolate":"step","fill":"#ffff00"},"encoding":{"x":{"field":"a","type":"quantitative"},"y":{"field":"b","type":"quantitative"},"y2":{"datum":0}}},
{"mark":{"type":"text","text":"Meas.data","align":"left","fontSize":6.5,"color":"#444"},"encoding":{"x":{"datum":-67.7},"y":{"datum":698}}},
{"mark":{"type":"rule","stroke":"#f5ee20","strokeWidth":1},"encoding":{"x":{"datum":-67.7},"x2":{"datum":-33.3},"y":{"datum":634}}}
]},
{"width":381.5,"height":295.5,"view":{"fill":"white"},"resolve":{"axis":{"x":"independent","y":"independent"}},"layer":[
{"mark":{"type":"rect","fill":"#ebe7d8"},"encoding":{"x":{"datum":-82.7,"type":"quantitative","scale":{"domain":[-88.78,375.2],"nice":false},"axis":{"disable":false,"zindex":1,"values":[0,100,200,300,360],"offset":-75,"labelPadding":9.5,"tickSize":0,"title":"Angles [°]","titleX":220,"titleY":26}},"x2":{"datum":369.7},"y":{"datum":-338.8,"type":"quantitative","scale":{"domain":[-876.2,2575.9],"nice":false},"axis":{"disable":false,"zindex":1,"orient":"left","values":[0,500,1000,1500,2000,2500],"offset":-73,"labelPadding":14,"tickSize":0,"title":"PD [pC]","titleX":-64,"titleY":19.5}},"y2":{"datum":2511.7}}},
{"mark":{"type":"rect","fill":"#000"},"encoding":{"x":{"datum":0,"type":"quantitative","axis":{"disable":false,"zindex":1,"orient":"top","values":[10,20,30,40,50,60,70,80,90,100,110,120,130,140,150,160,170,180,190,200,210,220,230,240,250,260,270,280,290,300,310,320,330,340,350],"labels":false,"ticks":true,"offset":-9.5,"title":null}},"x2":{"datum":360},"y":{"datum":0,"type":"quantitative","axis":{"disable":false,"zindex":1,"orient":"left","values":[100,200,300,400,600,700,800,900,1100,1200,1300,1400,1600,1700,1800,1900,2100,2200,2300,2400],"labels":false,"ticks":true,"offset":-76,"title":null}},"y2":{"datum":2500}}},
{"mark":{"type":"rect","fill":"#f5f4ea"},"encoding":{"x":{"datum":-9.7},"x2":{"datum":-2.4},"y":{"datum":0},"y2":{"datum":2500}}},
{"mark":{"type":"rect","fill":"#f5f4ea"},"encoding":{"x":{"datum":0},"x2":{"datum":360},"y":{"datum":-23.4},"y2":{"datum":-105}}},
{"mark":{"type":"point","shape":"triangle-up","filled":true,"size":6,"color":"#000","opacity":1},"encoding":{"x":{"datum":-6.1},"y":{"datum":2453}}},
{"mark":{"type":"point","shape":"triangle-down","filled":true,"size":6,"color":"#000","opacity":1},"encoding":{"x":{"datum":-6.1},"y":{"datum":35}}},
{"mark":{"type":"point","shape":"triangle-left","filled":true,"size":6,"color":"#000","opacity":1},"encoding":{"x":{"datum":6.1},"y":{"datum":-64}}},
{"mark":{"type":"point","shape":"triangle-right","filled":true,"size":6,"color":"#000","opacity":1},"encoding":{"x":{"datum":353.9},"y":{"datum":-64}}},
{"data":{"values":[50,100,150,200,250,300,350]},"mark":{"type":"rule","stroke":"#777","strokeWidth":1},"encoding":{"x":{"field":"data","type":"quantitative"},"y":{"datum":0},"y2":{"datum":2500}}},
{"data":{"values":[500,1000,1500,2000]},"mark":{"type":"rule","stroke":"#888","strokeWidth":1},"encoding":{"y":{"field":"data","type":"quantitative"},"x":{"datum":0},"x2":{"datum":360}}},
{"data":{"name":"p5"},"mark":{"type":"rule","stroke":"#8a8a2a","strokeWidth":1},"encoding":{"x":{"field":"a","type":"quantitative"},"y":{"field":"s","type":"quantitative"},"y2":{"datum":0}}},
{"data":{"name":"p5"},"mark":{"type":"area","interpolate":"step","fill":"#ffff00"},"encoding":{"x":{"field":"a","type":"quantitative"},"y":{"field":"b","type":"quantitative"},"y2":{"datum":0}}},
{"mark":{"type":"text","text":"Meas.data","align":"left","fontSize":6.5,"color":"#444"},"encoding":{"x":{"datum":-77.8},"y":{"datum":966}}},
{"mark":{"type":"rule","stroke":"#f5ee20","strokeWidth":1},"encoding":{"x":{"datum":-77.8},"x2":{"datum":-41.4},"y":{"datum":880}}}
]},
{"width":357.5,"height":295.5,"view":{"fill":"white"},"resolve":{"axis":{"x":"independent","y":"independent"}},"layer":[
{"mark":{"type":"rect","fill":"#ebe7d8"},"encoding":{"x":{"datum":-72,"type":"quantitative","scale":{"domain":[-77.59,366.2],"nice":false},"axis":{"disable":false,"zindex":1,"values":[0,100,200,300,360],"offset":-84,"labelPadding":9,"tickSize":0,"title":"Angles [°]","titleX":206.5,"titleY":25.3}},"x2":{"datum":366.2},"y":{"datum":-365.9,"type":"quantitative","scale":{"domain":[-1024.4,2579.3],"nice":false},"axis":{"disable":false,"zindex":1,"orient":"left","values":[0,500,1000,1500,2000,2500],"offset":-62.5,"labelPadding":13,"tickSize":0,"title":"PD [pC]","titleX":-55,"titleY":18.5}},"y2":{"datum":2536.6}}},
{"mark":{"type":"rect","fill":"#000"},"encoding":{"x":{"datum":0,"type":"quantitative","axis":{"disable":false,"zindex":1,"orient":"top","values":[10,20,30,40,50,60,70,80,90,100,110,120,130,140,150,160,170,180,190,200,210,220,230,240,250,260,270,280,290,300,310,320,330,340,350],"labels":false,"ticks":true,"offset":-9.5,"title":null}},"x2":{"datum":360},"y":{"datum":0,"type":"quantitative","axis":{"disable":false,"zindex":1,"orient":"left","values":[100,200,300,400,600,700,800,900,1100,1200,1300,1400,1600,1700,1800,1900,2100,2200,2300,2400],"labels":false,"ticks":true,"offset":-65.5,"title":null}},"y2":{"datum":2500}}},
{"mark":{"type":"rect","fill":"#f5f4ea"},"encoding":{"x":{"datum":-10},"x2":{"datum":-2.5},"y":{"datum":0},"y2":{"datum":2500}}},
{"mark":{"type":"rect","fill":"#f5f4ea"},"encoding":{"x":{"datum":0},"x2":{"datum":360},"y":{"datum":-24.4},"y2":{"datum":-110}}},
{"mark":{"type":"point","shape":"triangle-up","filled":true,"size":6,"color":"#000","opacity":1},"encoding":{"x":{"datum":-6.2},"y":{"datum":2451}}},
{"mark":{"type":"point","shape":"triangle-down","filled":true,"size":6,"color":"#000","opacity":1},"encoding":{"x":{"datum":-6.2},"y":{"datum":37}}},
{"mark":{"type":"point","shape":"triangle-left","filled":true,"size":6,"color":"#000","opacity":1},"encoding":{"x":{"datum":6.2},"y":{"datum":-67}}},
{"mark":{"type":"point","shape":"triangle-right","filled":true,"size":6,"color":"#000","opacity":1},"encoding":{"x":{"datum":353.8},"y":{"datum":-67}}},
{"data":{"values":[50,100,150,200,250,300,350]},"mark":{"type":"rule","stroke":"#777","strokeWidth":1},"encoding":{"x":{"field":"data","type":"quantitative"},"y":{"datum":0},"y2":{"datum":2500}}},
{"data":{"values":[500,1000,1500,2000]},"mark":{"type":"rule","stroke":"#888","strokeWidth":1},"encoding":{"y":{"field":"data","type":"quantitative"},"x":{"datum":0},"x2":{"datum":360}}},
{"data":{"name":"p6"},"mark":{"type":"rule","stroke":"#8a8a2a","strokeWidth":1},"encoding":{"x":{"field":"a","type":"quantitative"},"y":{"field":"s","type":"quantitative"},"y2":{"datum":0}}},
{"data":{"name":"p6"},"mark":{"type":"area","interpolate":"step","fill":"#ffff00"},"encoding":{"x":{"field":"a","type":"quantitative"},"y":{"field":"b","type":"quantitative"},"y2":{"datum":0}}},
{"mark":{"type":"text","text":"Meas.data","align":"left","fontSize":6.5,"color":"#444"},"encoding":{"x":{"datum":-67},"y":{"datum":963}}},
{"mark":{"type":"rule","stroke":"#f5ee20","strokeWidth":1},"encoding":{"x":{"datum":-67},"x2":{"datum":-33.5},"y":{"datum":878}}}
]}
],"spacing":3,"bounds":"flush"}
],"spacing":3}
],"spacing":3}
],"spacing":0}
